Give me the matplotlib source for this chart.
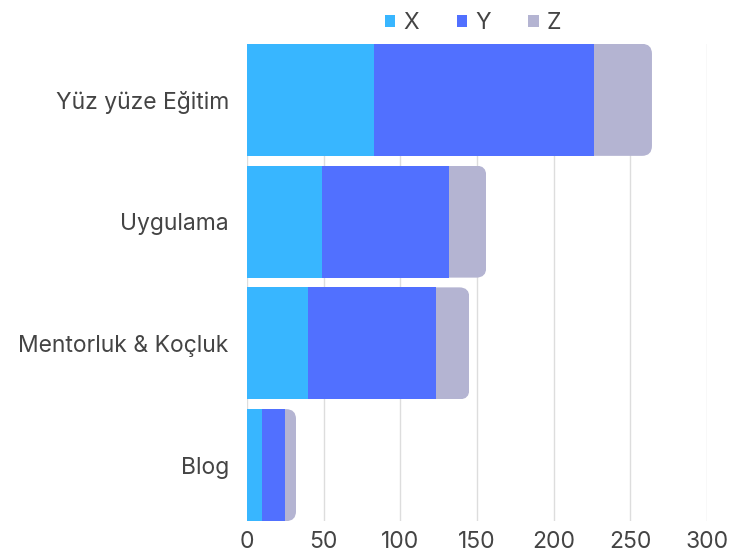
import matplotlib
matplotlib.use("Agg")
import matplotlib.pyplot as plt
from matplotlib.patches import FancyBboxPatch

plt.rcParams['font.family'] = ['Inter', 'DejaVu Sans']

categories = ["Yüz yüze Eğitim", "Uygulama", "Mentorluk & Koçluk", "Blog"]
x_vals = [83, 49, 40, 10]
y_vals = [143, 83, 83, 15]
z_vals = [38, 24, 22, 7]
series_names = ["X", "Y", "Z"]
colors = ["#38B6FF", "#5170FF", "#B4B4D2"]
xticks = [0, 50, 100, 150, 200, 250, 300]

fig = plt.figure(figsize=(7.46, 5.55), dpi=100)
ax = fig.add_axes([0.331, 0.061, 0.617, 0.860])

ypos = list(range(len(categories)))
h = 0.92
left = [0] * len(categories)
bars = []
for vals, name, c in zip([x_vals, y_vals, z_vals], series_names, colors):
    b = ax.barh(ypos, vals, left=left, height=h, color=c, label=name, zorder=2)
    bars.append(b)
    left = [l + v for l, v in zip(left, vals)]

ax.set_xlim(0, 300)
ax.set_ylim(3 + h / 2, -h / 2)

# round the right end of each stacked bar (clip the last segment)
r = 6.5
asp = 0.082 / 6.5
for rect, total in zip(bars[-1], left):
    y0 = rect.get_y()
    clip = FancyBboxPatch((-60, y0), total + 60, h,
                          boxstyle="round,pad=0,rounding_size=%g" % r,
                          mutation_aspect=asp, transform=ax.transData)
    rect.set_clip_path(clip)

ax.set_yticks(ypos)
ax.set_yticklabels(categories)
ax.set_xticks(xticks)
ax.tick_params(length=0, labelsize=16.5, colors="#444444", pad=7)
ax.tick_params(axis='y', pad=13)
ax.grid(axis='x', color="#DDDDDD", linewidth=1, zorder=0)
ax.set_axisbelow(True)
for s in ax.spines.values():
    s.set_visible(False)

leg = fig.legend(loc='upper center', bbox_to_anchor=(0.634, 1.015), ncol=3,
                 frameon=False, fontsize=16.5, handlelength=0.45, handleheight=0.45,
                 handletextpad=0.35, columnspacing=1.65, labelcolor="#444444")

fig.savefig("out.png", dpi=100)
